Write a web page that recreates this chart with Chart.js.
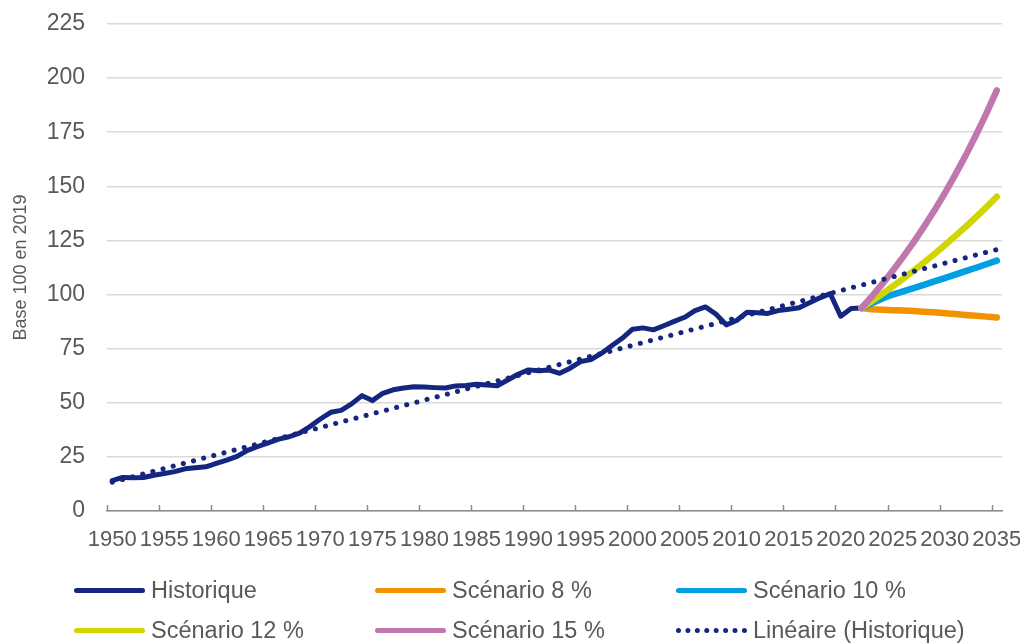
<!DOCTYPE html>
<html lang="fr">
<head>
<meta charset="utf-8">
<script src="https://cdn.jsdelivr.net/npm/chart.js@4"></script>
<style>
  html, body { margin: 0; padding: 0; background: #fff; }
  #wrap { position: relative; width: 1020px; height: 644px; }
  #legende {
    position: absolute; left: 74px; top: 570px;
    display: grid; grid-template-columns: 301px 301px 301px; grid-auto-rows: 40px;
    font-family: "Liberation Sans", Arial, sans-serif; font-size: 23.5px; color: #595959;
  }
  .item { display: flex; align-items: center; white-space: nowrap; }
  .trait { width: 71px; height: 5px; border-radius: 3px; margin-right: 6px; }
  .pointille { width: 71px; height: 0; border-top: 5px dotted #14267f; margin-right: 6px; }
</style>
</head>
<body>
<div id="wrap">
  <canvas id="graphique" width="1020" height="644"></canvas>
  <div id="legende"></div>
</div>
<script>
// Années 1950 -> 2035 (axe des catégories)
const annees = Array.from({ length: 86 }, (_, i) => 1950 + i);

// Historique, base 100 en 2019 (1950 -> 2022)
const historique = [
  14.0, 15.5, 15.4, 15.5, 16.5, 17.3, 18.2, 19.5, 20.0, 20.4,
  22.0, 23.5, 25.2, 28.0, 29.8, 31.5, 33.2, 34.3, 36.0, 39.0,
  42.5, 45.6, 46.5, 49.5, 53.3, 51.0, 54.4, 56.0, 56.8, 57.4,
  57.3, 57.0, 56.8, 57.8, 58.0, 58.6, 58.2, 57.9, 60.5, 63.2,
  65.2, 64.8, 65.1, 63.6, 66.0, 69.0, 70.0, 72.8, 76.3, 79.8,
  84.0, 84.6, 83.7, 85.6, 87.6, 89.5, 92.6, 94.3, 91.0, 86.0,
  88.0, 91.8, 91.6, 91.3, 92.6, 93.2, 93.9, 96.2, 98.5, 100.4,
  90.0, 93.6, 93.8
];

// Scénarios (2022 -> 2035)
const scenario8  = [93.8, 93.2, 93.0, 92.8, 92.6, 92.4, 92.1, 91.8, 91.4, 91.0, 90.6, 90.2, 89.8, 89.4];
const scenario10 = [93.8, 96.0, 98.2, 100.0, 101.5, 103.0, 104.5, 106.1, 107.6, 109.2, 110.8, 112.4, 114.0, 115.7];
const scenario12 = [93.8, 97.0, 100.3, 103.8, 107.3, 111.0, 114.8, 118.7, 122.8, 127.0, 131.3, 135.8, 140.4, 145.2];
const scenario15 = [93.8, 99.2, 104.9, 111.0, 117.4, 124.1, 131.3, 138.8, 146.8, 155.3, 164.2, 173.7, 183.7, 194.3];

// Tendance linéaire : valeurs lues en 1950 et en 2035
const lineaireDebut = 13.3;
const lineaireFin = 120.8;

const yTicks = [0, 25, 50, 75, 100, 125, 150, 175, 200, 225];

const debutScenarios = annees.indexOf(2022);
const versAnnees = vals => Array(debutScenarios).fill(null).concat(vals);
const lineaire = annees.map((a, i) => i === 0 ? lineaireDebut : (i === annees.length - 1 ? lineaireFin : null));

const series = [
  { label: 'Historique',     data: historique,            couleur: '#14267f', largeur: 5, ordre: 6 },
  { label: 'Scénario 8 %',   data: versAnnees(scenario8),  couleur: '#f39200', largeur: 6.5, ordre: 5 },
  { label: 'Scénario 10 %',  data: versAnnees(scenario10), couleur: '#009fe3', largeur: 6.5, ordre: 4 },
  { label: 'Scénario 12 %',  data: versAnnees(scenario12), couleur: '#d2d600', largeur: 6.5, ordre: 3 },
  { label: 'Scénario 15 %',  data: versAnnees(scenario15), couleur: '#c077ae', largeur: 6.5, ordre: 2 },
];

const police = '"Liberation Sans", Arial, sans-serif';
const policeEtroite = '"Liberation Sans Narrow", "Liberation Sans", Arial, sans-serif';
const gris = '#595959';

// petites graduations vers le haut sur l'axe des x, tous les 5 ans
const graduations = {
  id: 'graduations',
  afterDraw(chart) {
    const x = chart.scales.x;
    const ctx = chart.ctx;
    const demi = (x.getPixelForValue(1) - x.getPixelForValue(0)) / 2;
    ctx.save();
    ctx.strokeStyle = '#8c8c8c';
    ctx.lineWidth = 1.5;
    annees.forEach((a, i) => {
      if (a % 5 !== 0) return;
      const px = Math.round(x.getPixelForValue(i) - demi) + 0.5;
      ctx.beginPath();
      ctx.moveTo(px, x.top);
      ctx.lineTo(px, x.top - 6);
      ctx.stroke();
    });
    ctx.restore();
  }
};

const datasets = series.map(s => ({
  label: s.label,
  data: s.data,
  borderColor: s.couleur,
  backgroundColor: s.couleur,
  borderWidth: s.largeur,
  borderCapStyle: 'round',
  borderJoinStyle: 'round',
  pointRadius: 0,
  tension: 0,
  order: s.ordre
}));
datasets.push({
  label: 'Linéaire (Historique)',
  data: lineaire,
  borderColor: '#14267f',
  borderWidth: 5,
  borderCapStyle: 'round',
  borderDash: [0.1, 10.4],
  pointRadius: 0,
  spanGaps: true,
  order: 0
});

new Chart(document.getElementById('graphique'), {
  type: 'line',
  data: { labels: annees, datasets: datasets },
  options: {
    responsive: false,
    animation: false,
    layout: { padding: { top: 24, right: 18, bottom: 0, left: 0 } },
    plugins: { legend: { display: false }, tooltip: { enabled: false } },
    scales: {
      x: {
        offset: true,
        grid: { display: false, drawTicks: false, tickLength: 0 },
        border: { display: true, color: '#8c8c8c', width: 1.5 },
        ticks: {
          autoSkip: false, maxRotation: 0, minRotation: 0, padding: 16,
          color: gris, font: { family: policeEtroite, size: 22 },
          callback: (v, i) => annees[i] % 5 === 0 ? String(annees[i]) : ''
        },
        afterFit: s => { s.height = 133; s.paddingLeft = 0; s.paddingRight = 0; }
      },
      y: {
        min: 0, max: 225,
        afterBuildTicks: s => { s.ticks = yTicks.map(v => ({ value: v })); },
        grid: { color: '#d9d9d9', lineWidth: 1.5, drawTicks: false, tickLength: 0 },
        border: { display: false },
        ticks: { padding: 22, color: gris, font: { family: police, size: 23 } },
        title: { display: true, text: 'Base 100 en 2019', color: gris, font: { family: police, size: 18 }, padding: { top: 10, bottom: 0 } },
        afterFit: s => { s.width = 107; s.paddingTop = 0; s.paddingBottom = 0; }
      }
    }
  },
  plugins: [graduations]
});

// légende en HTML (3 colonnes comme l'original)
const legende = document.getElementById('legende');
series.concat([{ label: 'Linéaire (Historique)', pointille: true }]).forEach(s => {
  const item = document.createElement('div');
  item.className = 'item';
  const trait = document.createElement('span');
  if (s.pointille) {
    trait.className = 'pointille';
  } else {
    trait.className = 'trait';
    trait.style.background = s.couleur;
  }
  item.appendChild(trait);
  item.appendChild(document.createTextNode(s.label));
  legende.appendChild(item);
});
</script>
</body>
</html>
